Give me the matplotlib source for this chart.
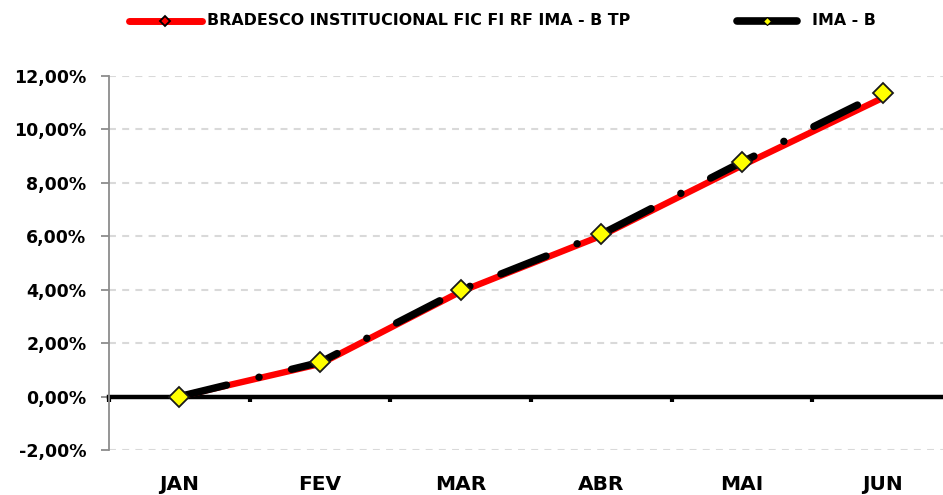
import matplotlib
matplotlib.use("Agg")
import matplotlib.pyplot as plt
from matplotlib.lines import Line2D
from matplotlib.ticker import FuncFormatter

plt.rcParams['font.family'] = ['DejaVu Sans']
plt.rcParams['font.weight'] = 'bold'
plt.rcParams['lines.scale_dashes'] = False

# data (cumulative return, %)
months = ["JAN", "FEV", "MAR", "ABR", "MAI", "JUN"]
fund_name = "BRADESCO INSTITUCIONAL FIC FI RF IMA - B TP"
bench_name = "IMA - B"
fund_ret = [0.0, 1.22, 3.93, 6.02, 8.65, 11.18]
bench_ret = [0.0, 1.28, 3.99, 6.08, 8.78, 11.38]
y_ticks = [-2, 0, 2, 4, 6, 8, 10, 12]

W, H = 943, 495
fig = plt.figure(figsize=(W / 100, H / 100), dpi=100)
# axes runs a bit past the right edge like the original export
ax = fig.add_axes([109 / W, 45 / H, 844 / W, 374 / H])

x = list(range(len(months)))

# gridlines
for v in y_ticks:
    if v != 0:
        ax.axhline(v, color='#d9d9d9', lw=1.5, linestyle=(0, (5, 4.5)), zorder=0)

ax.plot(x, fund_ret, color='#ff0000', lw=4.6, solid_capstyle='round', zorder=3)
ax.plot(x, bench_ret, color='black', lw=5.3, linestyle=(0, (35, 24, 0.1, 24)),
        dash_capstyle='round', zorder=4)
ax.plot(x, bench_ret, linestyle='none', marker='D', ms=10.5, mfc='#ffff00',
        mec='#1a1a1a', mew=1.3, zorder=5)

ax.set_xlim(-0.5, len(months) - 0.5)
ax.set_ylim(-2, 12)

# y axis
ax.spines['left'].set_color('#8c8c8c')
ax.spines['left'].set_linewidth(1.3)
ax.spines['top'].set_visible(False)
ax.spines['right'].set_visible(False)
ax.spines['bottom'].set_position(('data', 0))
ax.spines['bottom'].set_linewidth(3.2)
ax.spines['bottom'].set_color('black')
ax.spines['bottom'].set_zorder(2)

ax.set_yticks(y_ticks)
ax.yaxis.set_major_formatter(FuncFormatter(lambda v, p: f"{v:.2f}%".replace('.', ',')))
ax.tick_params(axis='y', direction='out', length=5.8, width=1.3, color='#8c8c8c',
               labelsize=12.5, pad=10.5, labelcolor='black')

# x ticks between categories, labels below the plot
ax.set_xticks([i - 0.5 for i in range(len(months) + 1)])
ax.set_xticklabels([])
ax.tick_params(axis='x', direction='out', length=3.5, width=3, color='black')
for i, m in enumerate(months):
    ax.text(i, -0.092, m, transform=ax.get_xaxis_transform(), ha='center', va='center',
            fontsize=14.5, fontweight='bold')

# legend drawn like the Excel one: separate handle widths
ly = 1 - 20.5 / H
fig.add_artist(Line2D([129 / W, 202 / W], [ly, ly], color='#ff0000', lw=5,
                      solid_capstyle='round'))
fig.add_artist(Line2D([165 / W], [ly], marker='D', ms=5, mfc='#ff0000', mec='black', mew=1.3))
fig.text(207 / W, ly, fund_name, ha='left', va='center', fontsize=11.4, fontweight='bold')
fig.add_artist(Line2D([737 / W, 797 / W], [ly, ly], color='black', lw=5.5,
                      solid_capstyle='round'))
fig.add_artist(Line2D([767 / W], [ly], marker='D', ms=4.5, mfc='#ffff00', mec='black', mew=0.8))
fig.text(812 / W, ly, bench_name, ha='left', va='center', fontsize=11.4, fontweight='bold')

fig.savefig("out.png", dpi=100)
